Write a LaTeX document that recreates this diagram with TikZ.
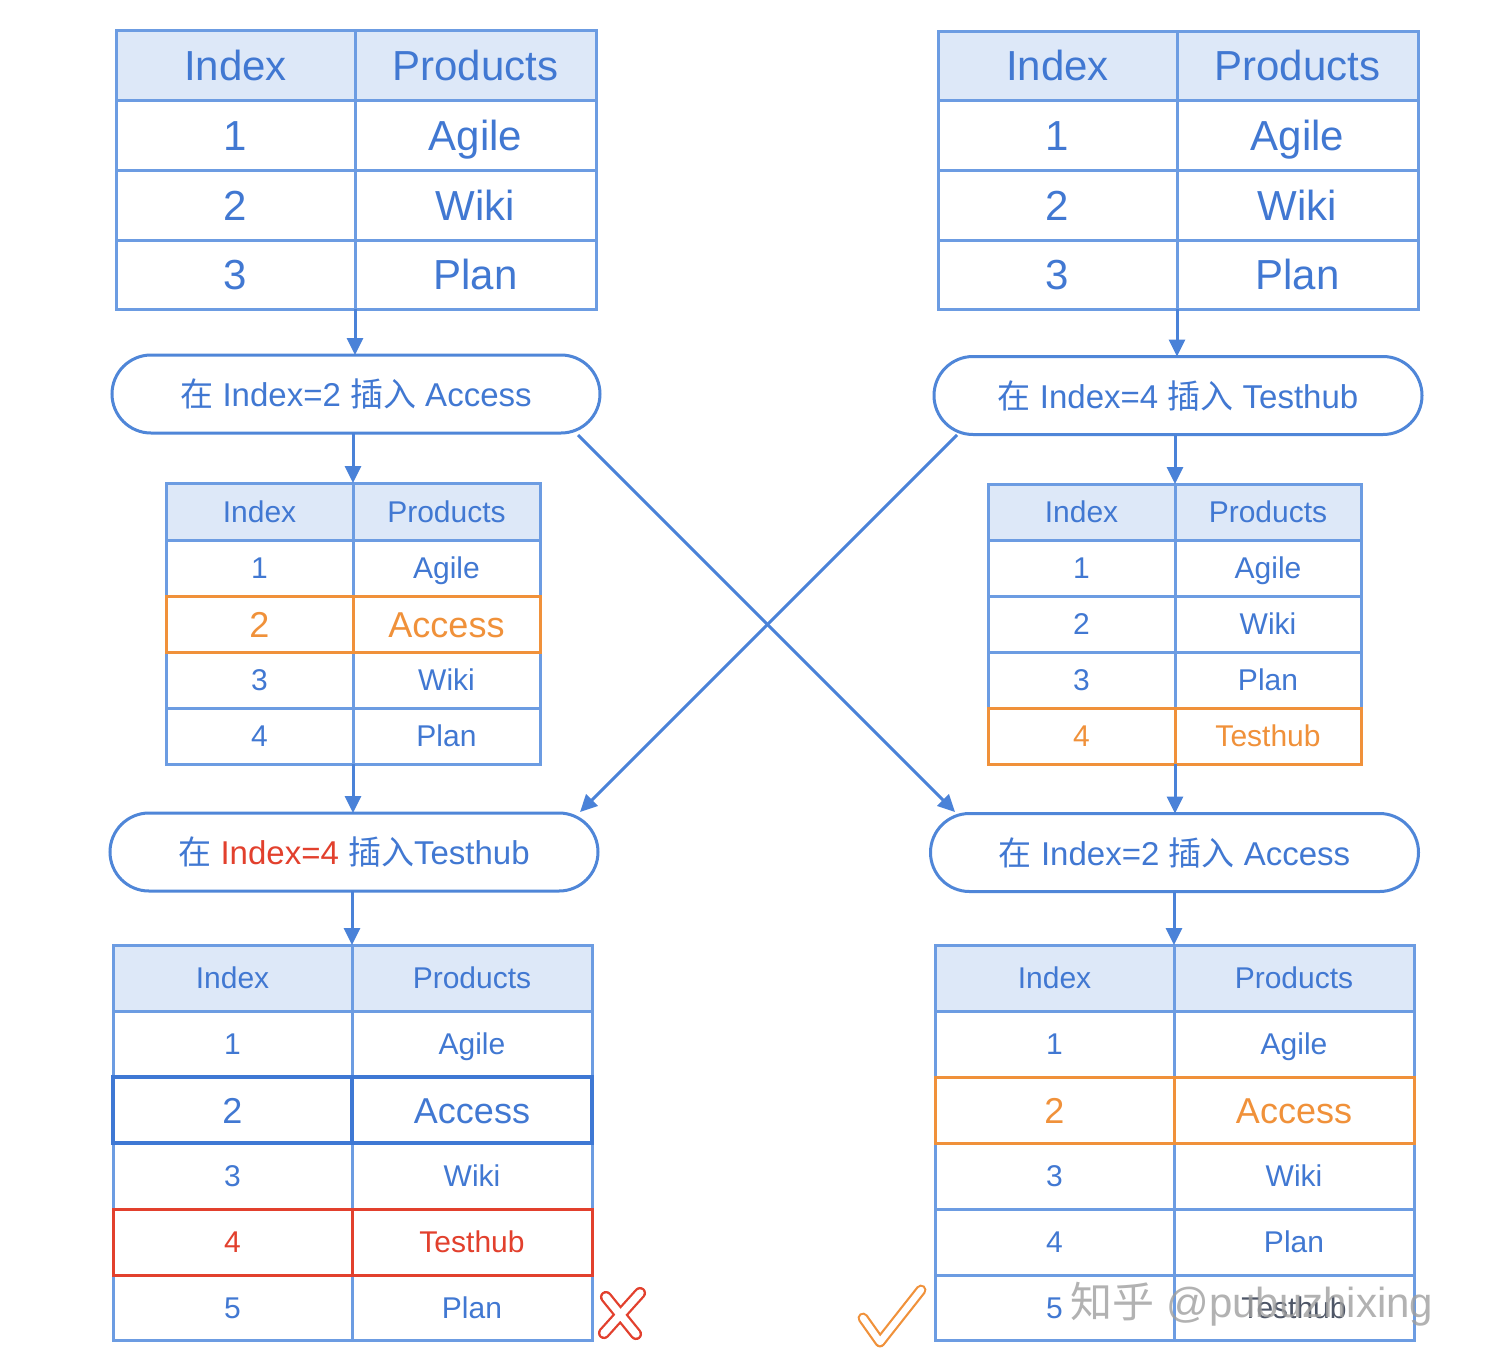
\documentclass[tikz,border=0pt]{standalone}
\usepackage{fontspec}
\setmainfont{Liberation Sans}
\newfontfamily\cjk{Noto Sans CJK SC}
\usetikzlibrary{shapes.misc,arrows.meta,calc}

\definecolor{gridblue}{HTML}{6C9CE2}
\definecolor{txtblue}{HTML}{4178D2}
\definecolor{headfill}{HTML}{DDE8F8}
\definecolor{pillblue}{HTML}{4F86D8}
\definecolor{arrowblue}{HTML}{4A82D8}
\definecolor{deepblue}{HTML}{3E78D4}
\definecolor{orangec}{HTML}{F0913A}
\definecolor{redc}{HTML}{E2402D}
\definecolor{inkgrey}{HTML}{4D5566}

\tikzset{
  cell/.style={draw=gridblue, line width=3pt, inner sep=0pt, outer sep=0pt,
               text=txtblue, align=center},
  head/.style={fill=headfill},
  big/.style={font=\fontsize{42}{50}\selectfont, text height=30pt, text depth=0pt},
  mid/.style={font=\fontsize{30}{36}\selectfont, text height=21.5pt, text depth=0pt},
  large/.style={font=\fontsize{36}{42}\selectfont, text height=26pt, text depth=0pt},
  hlorange/.style={draw=orangec, text=orangec},
  hlred/.style={draw=redc, text=redc},
  hlblue/.style={draw=deepblue, line width=3.5pt},
  pill/.style={rounded rectangle, draw=pillblue, line width=3pt, fill=white,
               minimum width=488pt, minimum height=78pt, inner sep=0pt,
               outer sep=0pt, text=txtblue, font=\fontsize{33}{40}\selectfont},
  conn/.style={draw=arrowblue, line width=3pt,
               -{Triangle[length=17pt,width=16pt]}},
  wrongsign/.style={draw=redc, double=white, line width=2.3pt,
                    double distance=7.5pt, line cap=round, line join=round},
  rightsign/.style={draw=orangec, double=white, line width=2.2pt,
                    double distance=6.5pt, line cap=round, line join=round},
  wmark/.style={text=gray!75, opacity=0.8, inner sep=0pt,
                font=\fontsize{42}{48}\selectfont}
}

% one table row: name, x0, x-divider, x1, y-top, y-bottom, style, left, right
\newcommand\trow[9]{%
  \node[cell,#7,minimum width={#3-#2},minimum height={#6-#5},anchor=north west]
    (#1i) at (#2,#5) {#8};
  \node[cell,#7,minimum width={#4-#3},minimum height={#6-#5},anchor=north west]
    (#1p) at (#3,#5) {#9};}

\begin{document}
\begin{tikzpicture}[x=1pt,y=-1pt]
\useasboundingbox (0,0) rectangle (1500,1369);
\fill[white] (0,0) rectangle (1500,1369);

% ---- initial table (left)
\trow{Ah}{116}{355}{596}{30}{100}{head,big}{Index}{Products}
\trow{Aa}{116}{355}{596}{100}{170}{big}{1}{Agile}
\trow{Ab}{116}{355}{596}{170}{240}{big}{2}{Wiki}
\trow{Ac}{116}{355}{596}{240}{309}{big}{3}{Plan}

% ---- initial table (right)
\trow{Bh}{938}{1177}{1418}{31}{100}{head,big}{Index}{Products}
\trow{Ba}{938}{1177}{1418}{100}{170}{big}{1}{Agile}
\trow{Bb}{938}{1177}{1418}{170}{240}{big}{2}{Wiki}
\trow{Bc}{938}{1177}{1418}{240}{309}{big}{3}{Plan}

% ---- operations
\node[pill] (pA) at (356,394) {{\cjk 在} Index=2 {\cjk 插入} Access};
\node[pill] (pB) at (1178,395.5) {{\cjk 在} Index=4 {\cjk 插入} Testhub};

% ---- after first insert (left)
\trow{Ch}{166}{353}{540}{483}{540}{head,mid}{Index}{Products}
\trow{Ca}{166}{353}{540}{540}{596}{mid}{1}{Agile}
\trow{Cc}{166}{353}{540}{652}{708}{mid}{3}{Wiki}
\trow{Cd}{166}{353}{540}{708}{764}{mid}{4}{Plan}
\trow{Cb}{166}{353}{540}{596}{652}{large,hlorange}{2}{Access}

% ---- after first insert (right)
\trow{Dh}{988}{1175}{1361}{484}{540}{head,mid}{Index}{Products}
\trow{Da}{988}{1175}{1361}{540}{596}{mid}{1}{Agile}
\trow{Db}{988}{1175}{1361}{596}{652}{mid}{2}{Wiki}
\trow{Dc}{988}{1175}{1361}{652}{708}{mid}{3}{Plan}
\trow{Dd}{988}{1175}{1361}{708}{764}{mid,hlorange}{4}{Testhub}

% ---- second operations
\node[pill] (pC) at (354,852) {{\cjk 在} \textcolor{redc}{Index=4} {\cjk 插入}Testhub};
\node[pill] (pD) at (1174.5,852.5) {{\cjk 在} Index=2 {\cjk 插入} Access};

% ---- results (left)
\trow{Eh}{113}{352}{592}{945}{1011}{head,mid}{Index}{Products}
\trow{Ea}{113}{352}{592}{1011}{1077}{mid}{1}{Agile}
\trow{Ec}{113}{352}{592}{1143}{1209}{mid}{3}{Wiki}
\trow{Ee}{113}{352}{592}{1275}{1340}{mid}{5}{Plan}
\trow{Eb}{113}{352}{592}{1077}{1143}{large,hlblue}{2}{Access}
\trow{Ed}{113}{352}{592}{1209}{1275}{mid,hlred}{4}{Testhub}

% ---- results (right)
\trow{Fh}{935}{1174}{1414}{945}{1011}{head,mid}{Index}{Products}
\trow{Fa}{935}{1174}{1414}{1011}{1077}{mid}{1}{Agile}
\trow{Fc}{935}{1174}{1414}{1143}{1209}{mid}{3}{Wiki}
\trow{Fd}{935}{1174}{1414}{1209}{1275}{mid}{4}{Plan}
\trow{Fe}{935}{1174}{1414}{1275}{1340}{mid}{5}{\textcolor{inkgrey}{Testhub}}
\trow{Fb}{935}{1174}{1414}{1077}{1143}{large,hlorange}{2}{Access}

% ---- connectors
\draw[conn] (Aci.south east) -- (Aci.south east |- pA.north);
\draw[conn] (Bci.south east) -- (Bci.south east |- pB.north);
\draw[conn] (Chi.north east |- pA.south) -- (Chi.north east);
\draw[conn] (Dhi.north east |- pB.south) -- (Dhi.north east);
\draw[conn] (Cdi.south east) -- (Cdi.south east |- pC.north);
\draw[conn] (Ddi.south east) -- (Ddi.south east |- pD.north);
\draw[conn] (Ehi.north east |- pC.south) -- (Ehi.north east);
\draw[conn] (Fhi.north east |- pD.south) -- (Fhi.north east);
\draw[conn] ($(pA.center)+(222,41)$) -- ($(pD.center)+(-219.5,-40.5)$);
\draw[conn] ($(pB.center)+(-221,39.5)$) -- ($(pC.center)+(226,-40)$);

% ---- verdict marks
\draw[wrongsign] (606,1297) -- (636,1334) (640,1293) -- (604,1333);
\draw[rightsign] (863,1318) -- (880,1342) -- (921,1290);

% ---- watermark
\node[wmark] (wm) at (1252,1304) {{\cjk 知乎} @pubuzhixing};
\end{tikzpicture}
\end{document}
